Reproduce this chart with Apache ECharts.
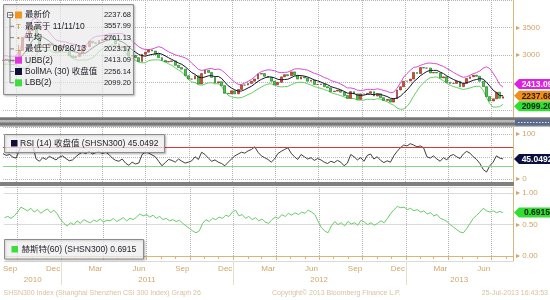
<!DOCTYPE html>
<html><head><meta charset="utf-8">
<script src="https://cdn.jsdelivr.net/npm/echarts@6/dist/echarts.min.js"></script>
<style>html,body{margin:0;padding:0;background:#fff}#c{width:550px;height:300px}</style>
</head><body><div id="c"></div>
<script>
// ---------- data ----------
const startDate = '2010-09-03';
const endDate = '2013-08-16';
const weekStep = 7; // weekly samples (days between points)
const closes = [2900,2920,2870,2880,2936,3080,3320,3360,3440,3510,
 3300,3140,3180,3160,3200,3180,3060,3128,3160,3110,
 2980,2950,2970,3020,3140,3150,3250,3220,3210,3260,
 3280,3320,3340,3280,3200,3130,3150,3100,2980,2990,
 2950,2880,3010,3050,3090,3070,3010,2950,2900,2870,
 2880,2890,2810,2770,2740,2620,2560,2560,2620,2470,
 2660,2720,2680,2590,2490,2510,2440,2300,2290,2345,
 2290,2370,2450,2450,2480,2520,2560,2650,2660,2610,
 2590,2520,2455,2500,2600,2640,2620,2690,2630,2560,
 2600,2580,2520,2540,2460,2460,2470,2420,2400,2330,
 2340,2360,2320,2260,2210,2330,2290,2190,2290,2290,
 2300,2330,2250,2290,2220,2170,2190,2140,2200,2360,
 2420,2520,2525,2560,2680,2660,2770,2760,2760,2670,
 2680,2670,2580,2600,2500,2480,2480,2520,2420,2480,
 2570,2600,2630,2610,2520,2420,2240,2160,2200,2320,
 2210,2237.68];
const bollMA = [2900,2910,2897,2893,2901,2931,3001,3074,3169,3274,
 3335,3345,3322,3288,3248,3193,3153,3151,3148,3140,
 3103,3065,3050,3032,3028,3035,3080,3125,3165,3205,
 3228,3257,3272,3282,3280,3258,3237,3200,3140,3092,
 3050,3008,2985,2977,2995,3008,3018,3030,3012,2982,
 2947,2917,2883,2853,2827,2785,2732,2677,2645,2595,
 2582,2598,2618,2623,2602,2608,2572,2502,2437,2396,
 2363,2339,2341,2366,2398,2427,2472,2518,2553,2580,
 2598,2598,2581,2556,2546,2551,2556,2584,2613,2623,
 2623,2613,2597,2572,2543,2527,2505,2478,2458,2423,
 2403,2387,2362,2335,2303,2303,2295,2267,2262,2267,
 2282,2282,2275,2292,2280,2260,2242,2210,2202,2213,
 2247,2305,2361,2431,2511,2561,2619,2659,2698,2717,
 2717,2718,2687,2660,2617,2585,2552,2527,2500,2480,
 2492,2512,2537,2552,2568,2558,2503,2430,2358,2310,
 2258,2256.14];
const bollUp = [2980,2985,2967,2963,2981,3081,3251,3394,3529,3654,
 3665,3625,3562,3488,3408,3333,3273,3251,3243,3235,
 3213,3195,3190,3162,3148,3165,3240,3305,3335,3345,
 3348,3367,3382,3382,3390,3388,3387,3360,3315,3252,
 3200,3148,3115,3097,3095,3108,3128,3150,3132,3092,
 3057,3027,3003,2983,2967,2945,2912,2847,2795,2735,
 2717,2728,2748,2753,2732,2743,2722,2672,2612,2556,
 2503,2464,2461,2486,2518,2552,2602,2658,2693,2715,
 2728,2723,2711,2686,2676,2681,2686,2714,2743,2748,
 2743,2733,2722,2692,2663,2647,2620,2588,2568,2533,
 2513,2497,2467,2435,2398,2398,2385,2357,2352,2357,
 2372,2372,2365,2382,2370,2350,2337,2310,2322,2393,
 2487,2595,2661,2721,2771,2781,2809,2829,2848,2852,
 2842,2838,2812,2790,2752,2720,2682,2647,2615,2590,
 2602,2627,2657,2677,2708,2758,2783,2750,2668,2570,
 2458,2413.09];
const bollLow = [2820,2835,2827,2823,2821,2781,2751,2754,2809,2894,
 3005,3065,3082,3088,3088,3053,3033,3051,3053,3045,
 2993,2935,2910,2902,2908,2905,2920,2945,2995,3065,
 3108,3147,3162,3182,3170,3128,3087,3040,2965,2932,
 2900,2868,2855,2857,2895,2908,2908,2910,2892,2872,
 2837,2807,2763,2723,2687,2625,2552,2507,2495,2455,
 2447,2468,2488,2493,2472,2473,2422,2332,2262,2236,
 2223,2214,2221,2246,2278,2302,2342,2378,2413,2445,
 2468,2473,2451,2426,2416,2421,2426,2454,2483,2498,
 2503,2493,2472,2452,2423,2407,2390,2368,2348,2313,
 2293,2277,2257,2235,2208,2208,2205,2177,2172,2177,
 2192,2192,2185,2202,2190,2170,2147,2110,2082,2033,
 2007,2015,2061,2141,2251,2341,2429,2489,2548,2582,
 2592,2598,2562,2530,2482,2450,2422,2407,2385,2370,
 2382,2397,2417,2427,2428,2358,2223,2110,2048,2050,
 2058,2099.20];
const rsi = [57,53,55,49,47,66,82,78,80,74,
 45,40,48,44,51,47,43,49,52,46,
 41,43,50,56,60,57,62,56,59,61,
 57,60,55,47,42,40,45,36,31,38,
 34,36,55,60,58,54,50,40,30,37,
 44,42,38,45,40,36,38,41,50,44,
 60,55,47,40,43,38,35,30,38,45,
 52,56,60,58,63,66,72,60,52,48,
 44,38,45,57,62,66,70,58,50,44,
 55,50,45,48,42,46,43,38,35,40,
 37,42,38,30,36,55,50,43,48,40,
 53,56,45,50,42,37,41,38,52,62,
 70,76,74,79,76,72,74,70,50,47,
 52,45,40,48,43,52,55,50,46,56,
 62,58,50,44,35,22,16,30,38,52,
 47,45.0492];
const hurst = [0.61,0.63,0.60,0.64,0.70,0.78,0.75,0.72,0.76,0.70,
 0.74,0.68,0.72,0.75,0.69,0.73,0.67,0.58,0.52,0.48,
 0.53,0.50,0.56,0.52,0.58,0.55,0.53,0.57,0.55,0.59,
 0.54,0.57,0.56,0.60,0.55,0.58,0.61,0.56,0.60,0.58,
 0.62,0.67,0.64,0.66,0.62,0.65,0.60,0.63,0.58,0.60,
 0.56,0.58,0.55,0.57,0.52,0.48,0.44,0.40,0.37,0.40,
 0.52,0.58,0.55,0.60,0.58,0.62,0.60,0.65,0.63,0.70,
 0.73,0.64,0.66,0.60,0.63,0.58,0.61,0.56,0.59,0.54,
 0.52,0.58,0.62,0.60,0.66,0.63,0.68,0.65,0.69,0.66,
 0.70,0.68,0.73,0.70,0.66,0.55,0.45,0.40,0.37,0.48,
 0.55,0.50,0.53,0.48,0.55,0.51,0.53,0.49,0.57,0.54,
 0.50,0.53,0.49,0.52,0.56,0.53,0.60,0.68,0.74,0.79,
 0.77,0.78,0.74,0.76,0.72,0.74,0.70,0.72,0.67,0.69,
 0.64,0.66,0.60,0.58,0.55,0.50,0.46,0.42,0.38,0.37,
 0.44,0.52,0.60,0.65,0.70,0.76,0.72,0.70,0.72,0.69,
 0.71,0.6915];
const rsiOver = 70;
const rsiUnder = 30;
const priceTicks = [2500, 3000, 3500];
const rsiTicks = [0, 100];
const hurstTicks = [0, 0.5, 1];
const monthNames = ['Jan','Feb','Mar','Apr','May','Jun','Jul','Aug','Sep','Oct','Nov','Dec'];
const labelMonths = [3, 6, 9, 12];
const gridMonths = [1, 4, 7, 10];
const yearLabelDates = ['2010-11-02', '2011-07-02', '2012-07-01', '2013-04-24'];
const legendLabels = ['最新价', '最高于 11/11/10', '平均', '最低于 06/26/13', 'UBB(2)', 'BollMA (30) 收盘值', 'LBB(2)'];
const legendValues = ['2237.68', '3557.99', '2761.13', '2023.17', '2413.09', '2256.14', '2099.20'];
const rsiLegend = 'RSI (14) 收盘值 (SHSN300)';
const hurstLegend = '赫斯特(60) (SHSN300)';
const footerLeft = 'SHSN300 Index (Shanghai Shenzhen CSI 300 Index) Graph 26';
const footerMid = 'Copyright\u00A9 2013 Bloomberg Finance L.P.';
const footerRight = '25-Jul-2013 16:43:53';

// ---------- build ----------
const DAY = 86400000;
const cats = [];
for (let t = Date.parse(startDate + 'T00:00:00Z'); t <= Date.parse(endDate + 'T00:00:00Z'); t += DAY) {
  cats.push(new Date(t).toISOString().slice(0, 10));
}
const lastX = cats.length - 1;
const mon = v => +v.slice(5, 7), dom = v => +v.slice(8, 10);
const isQuarter = (i, v) => dom(v) === 1 && gridMonths.includes(mon(v));
const isMonthStart = (i, v) => dom(v) === 1;
const isMonthLabel = (i, v) => dom(v) === 15 && labelMonths.includes(mon(v));
const isYearStart = (i, v) => dom(v) === 1 && mon(v) === 1;
const isYearLabel = (i, v) => yearLabelDates.includes(v);
const pts = arr => arr.map((v, i) => [i * weekStep, v]);
const candleData = closes.map((c, i) => {
  const o = i ? closes[i - 1] : c;
  return [i * weekStep, o, c, Math.min(o, c), Math.max(o, c)];
});

const TAN = '#cfa66c', GRIDC = '#b5b5b5';
const FONT = "'Liberation Sans','Noto Sans CJK SC',sans-serif";
const splitV = { show: true, interval: isQuarter, lineStyle: { color: GRIDC, type: 'dotted', width: 1 } };
const hiddenX = gi => ({ type: 'category', gridIndex: gi, data: cats, boundaryGap: false,
  axisLine: { show: false }, axisTick: { show: false }, axisLabel: { show: false }, splitLine: splitV });

const tagPath = 'path://M0,5L5,0L42,0L42,10L5,10Z';
const tag = (val, text, fill, txtColor, dy) => ({
  symbol: tagPath, symbolSize: [42, 10], symbolOffset: [22, dy], silent: true,
  itemStyle: { color: fill },
  label: { show: true, position: 'inside', formatter: text, color: txtColor, fontSize: 8.5,
    fontWeight: 'bold', fontFamily: FONT, offset: [2, 0.5] },
  data: [{ coord: [lastX, val] }]
});
const yLab = (ticks, fmt) => ({ formatter: v => ticks.some(t => Math.abs(t - v) < 1e-9) ? '\u25B8 ' + fmt(v) : '',
  color: TAN, fontSize: 8, margin: 3, fontFamily: FONT });

const grids = [
  { left: 3, right: 37, top: 0, height: 118 },
  { left: 3, right: 37, top: 127, height: 55 },
  { left: 3, right: 37, top: 187, height: 74 }
];

const last = a => a[a.length - 1];
const TXT = '#1c1c24';
const mid = { verticalAlign: 'middle', textVerticalAlign: 'middle' };

// legend graphics
const G = [];
const Z = 100;
const boxStyle = a => ({ fill: 'rgba(255,255,255,' + a + ')', stroke: '#8c8c8c', lineWidth: 1, shadowBlur: 2, shadowColor: 'rgba(0,0,0,0.25)', shadowOffsetX: 1, shadowOffsetY: 1 });
G.push({ type: 'rect', z: Z, shape: { x: 3.5, y: 4.5, width: 130, height: 90 }, style: boxStyle(0.62) });
const rowY = k => 15 + k * 11.3;
G.push({ type: 'rect', z: Z + 1, shape: { x: 7.5, y: 12.5, width: 5, height: 5 }, style: { fill: '#fff', stroke: '#555', lineWidth: 0.8 } });
G.push({ type: 'line', z: Z + 1, shape: { x1: 8.5, y1: 15, x2: 11.5, y2: 15 }, style: { stroke: '#555', lineWidth: 0.8 } });
G.push({ type: 'line', z: Z + 1, shape: { x1: 10, y1: 17.5, x2: 10, y2: rowY(6) }, style: { stroke: '#666', lineWidth: 0.8 } });
const iconColors = ['#f0961e', null, null, null, '#e233e2', '#0f0f3a', '#3ddd3d'];
const iconGlyph = [null, 'T', '\u2022', '\u22A5', null, null, null];
legendLabels.forEach((lab, k) => {
  const y = rowY(k);
  G.push({ type: 'line', z: Z + 1, shape: { x1: 10, y1: y, x2: 14, y2: y }, style: { stroke: '#666', lineWidth: 0.8 } });
  if (iconColors[k]) {
    G.push({ type: 'rect', z: Z + 1, shape: { x: 15, y: y - 3.5, width: 7, height: 7 }, style: { fill: iconColors[k] } });
  } else {
    G.push({ type: 'text', z: Z + 1, x: 18.5, y: y, style: Object.assign({ text: iconGlyph[k], fill: '#d08a30', fontSize: 8, fontFamily: FONT,
      align: 'center', textAlign: 'center' }, mid) });
  }
  G.push({ type: 'text', z: Z + 1, x: 25, y: y, style: Object.assign({ text: lab, fill: TXT, fontSize: 8.5, fontFamily: FONT }, mid) });
  G.push({ type: 'text', z: Z + 1, x: 131, y: y, style: Object.assign({ text: legendValues[k], fill: TXT, fontSize: 7.5, fontFamily: FONT,
    align: 'right', textAlign: 'right' }, mid) });
});
// RSI legend
G.push({ type: 'rect', z: Z, shape: { x: 4.5, y: 134.5, width: 160, height: 18 }, style: boxStyle(0.7) });
G.push({ type: 'rect', z: Z + 1, shape: { x: 11, y: 140, width: 6.5, height: 6.5 }, style: { fill: '#0f0f3a' } });
G.push({ type: 'text', z: Z + 1, x: 20, y: 143.5, style: Object.assign({ text: rsiLegend + ' ' + last(rsi).toFixed(4), fill: TXT, fontSize: 8.5, fontFamily: FONT }, mid) });
// Hurst legend
G.push({ type: 'rect', z: Z, shape: { x: 4.5, y: 239.5, width: 139, height: 19.5 }, style: boxStyle(0.7) });
G.push({ type: 'rect', z: Z + 1, shape: { x: 11.5, y: 246, width: 6.5, height: 6.5 }, style: { fill: '#3ddd3d' } });
G.push({ type: 'text', z: Z + 1, x: 21.5, y: 249.5, style: Object.assign({ text: hurstLegend + ' ' + last(hurst).toFixed(4), fill: TXT, fontSize: 8.5, fontFamily: FONT }, mid) });
// separators
G.push({ type: 'rect', z: Z - 5, shape: { x: 0, y: 117, width: 550, height: 10 }, style: { fill: '#b8b8b8' } });
G.push({ type: 'rect', z: Z - 5, shape: { x: 0, y: 117.5, width: 550, height: 2.5 }, style: { fill: '#777777' } });
G.push({ type: 'rect', z: Z - 5, shape: { x: 0, y: 122.5, width: 550, height: 3 }, style: { fill: '#777777' } });
G.push({ type: 'rect', z: Z - 4, shape: { x: 515, y: 119.5, width: 35, height: 6 }, style: { fill: '#5c6a8e' } });
G.push({ type: 'line', z: Z - 3, shape: { x1: 518, y1: 122.5, x2: 549, y2: 122.5 }, style: { stroke: '#dfe6f5', lineWidth: 1, lineDash: [1.5, 1.5] } });
G.push({ type: 'rect', z: Z - 5, shape: { x: 0, y: 182, width: 514, height: 4 }, style: { fill: '#808080' } });
// footer
const footStyle = Object.assign({ fill: '#d6c2a0', fontSize: 7, fontFamily: FONT }, mid);
G.push({ type: 'text', z: Z, x: 3.5, y: 293, style: Object.assign({ text: footerLeft }, footStyle) });
G.push({ type: 'text', z: Z, x: 272, y: 293, style: Object.assign({ text: footerMid }, footStyle) });
G.push({ type: 'text', z: Z, x: 548, y: 293, style: Object.assign({ text: footerRight, align: 'right', textAlign: 'right' }, footStyle) });

const option = {
  animation: false,
  backgroundColor: '#ffffff',
  textStyle: { fontFamily: FONT },
  grid: grids,
  xAxis: [
    hiddenX(0),
    hiddenX(1),
    { type: 'category', gridIndex: 2, data: cats, boundaryGap: false, position: 'bottom',
      axisLine: { show: true, lineStyle: { color: '#dcb47a', width: 1 } },
      axisTick: { show: true, interval: isMonthStart, length: 3, lineStyle: { color: '#dcb47a' } },
      axisLabel: { show: true, interval: isMonthLabel, formatter: v => monthNames[mon(v) - 1], color: TAN, fontSize: 8, margin: 4, fontFamily: FONT },
      splitLine: splitV },
    { type: 'category', gridIndex: 2, data: cats, boundaryGap: false, position: 'bottom', offset: 0,
      axisLine: { show: false },
      axisTick: { show: true, interval: isYearStart, length: 24, lineStyle: { color: '#e6ded0' } },
      axisLabel: { show: true, interval: isYearLabel, formatter: v => v.slice(0, 4), color: TAN, fontSize: 8, margin: 15, fontFamily: FONT },
      splitLine: { show: false } }
  ],
  yAxis: [
    { type: 'value', gridIndex: 0, position: 'right', min: 1850, max: 4000, splitNumber: 5,
      axisLine: { show: true, lineStyle: { color: '#dcb47a' } }, axisTick: { show: false },
      axisLabel: yLab(priceTicks, v => String(v)),
      splitLine: { show: true, lineStyle: { color: GRIDC, type: 'dotted' } } },
    { type: 'value', gridIndex: 1, position: 'right', min: -6, max: 116, splitNumber: 2,
      axisLine: { show: true, lineStyle: { color: '#dcb47a' } }, axisTick: { show: false },
      axisLabel: yLab(rsiTicks, v => String(v)),
      splitLine: { show: true, lineStyle: { color: GRIDC, type: 'dotted' } } },
    { type: 'value', gridIndex: 2, position: 'right', min: -0.08, max: 1.10, splitNumber: 2,
      axisLine: { show: true, lineStyle: { color: '#dcb47a' } }, axisTick: { show: false },
      axisLabel: yLab(hurstTicks, v => v.toFixed(2)),
      splitLine: { show: true, lineStyle: { color: GRIDC, type: 'dotted' } } }
  ],
  series: [
    { name: 'UBB(2)', type: 'line', xAxisIndex: 0, yAxisIndex: 0, data: pts(bollUp), symbol: 'none',
      lineStyle: { color: '#d64cd6', width: 1 }, z: 2,
      markPoint: tag(last(bollUp), last(bollUp).toFixed(2), '#e020e0', '#ffffff', -3) },
    { name: 'LBB(2)', type: 'line', xAxisIndex: 0, yAxisIndex: 0, data: pts(bollLow), symbol: 'none',
      lineStyle: { color: '#62cf62', width: 1 }, z: 2,
      markPoint: tag(last(bollLow), last(bollLow).toFixed(2), '#33dd33', '#102010', 2) },
    { name: '最新价', type: 'candlestick', xAxisIndex: 0, yAxisIndex: 0, data: candleData,
      encode: { x: 0, y: [1, 2, 3, 4] }, barWidth: 2.3, z: 3,
      itemStyle: { color: '#e2452a', color0: '#3fcf3f', borderColor: '#7a2a14', borderColor0: '#1d6a1d', borderWidth: 0.6 },
      markPoint: tag(last(closes), last(closes).toFixed(2), '#f0901c', '#2a1a08', -1) },
    { name: 'BollMA (30)', type: 'line', xAxisIndex: 0, yAxisIndex: 0, data: pts(bollMA), symbol: 'none',
      lineStyle: { color: '#14142e', width: 1 }, z: 4 },
    { name: 'RSI', type: 'line', xAxisIndex: 1, yAxisIndex: 1, data: pts(rsi), symbol: 'none',
      lineStyle: { color: '#2a2a2a', width: 0.9 }, z: 3,
      markLine: { silent: true, symbol: 'none', label: { show: false },
        data: [ { yAxis: rsiOver, lineStyle: { color: '#d33a3a', type: 'solid', width: 1 } },
                { yAxis: rsiUnder, lineStyle: { color: '#8ad48a', type: 'solid', width: 1 } } ] },
      markPoint: tag(last(rsi), last(rsi).toFixed(4), '#0b1040', '#ffffff', 0) },
    { name: 'Hurst', type: 'line', xAxisIndex: 2, yAxisIndex: 2, data: pts(hurst), symbol: 'none',
      lineStyle: { color: '#66cc66', width: 1 }, z: 3,
      markPoint: tag(last(hurst), last(hurst).toFixed(4), '#33dd33', '#102010', 0) }
  ],
  graphic: G
};
const chart = echarts.init(document.getElementById('c'), null, { renderer: 'canvas' });
chart.setOption(option);
</script>
</body></html>
